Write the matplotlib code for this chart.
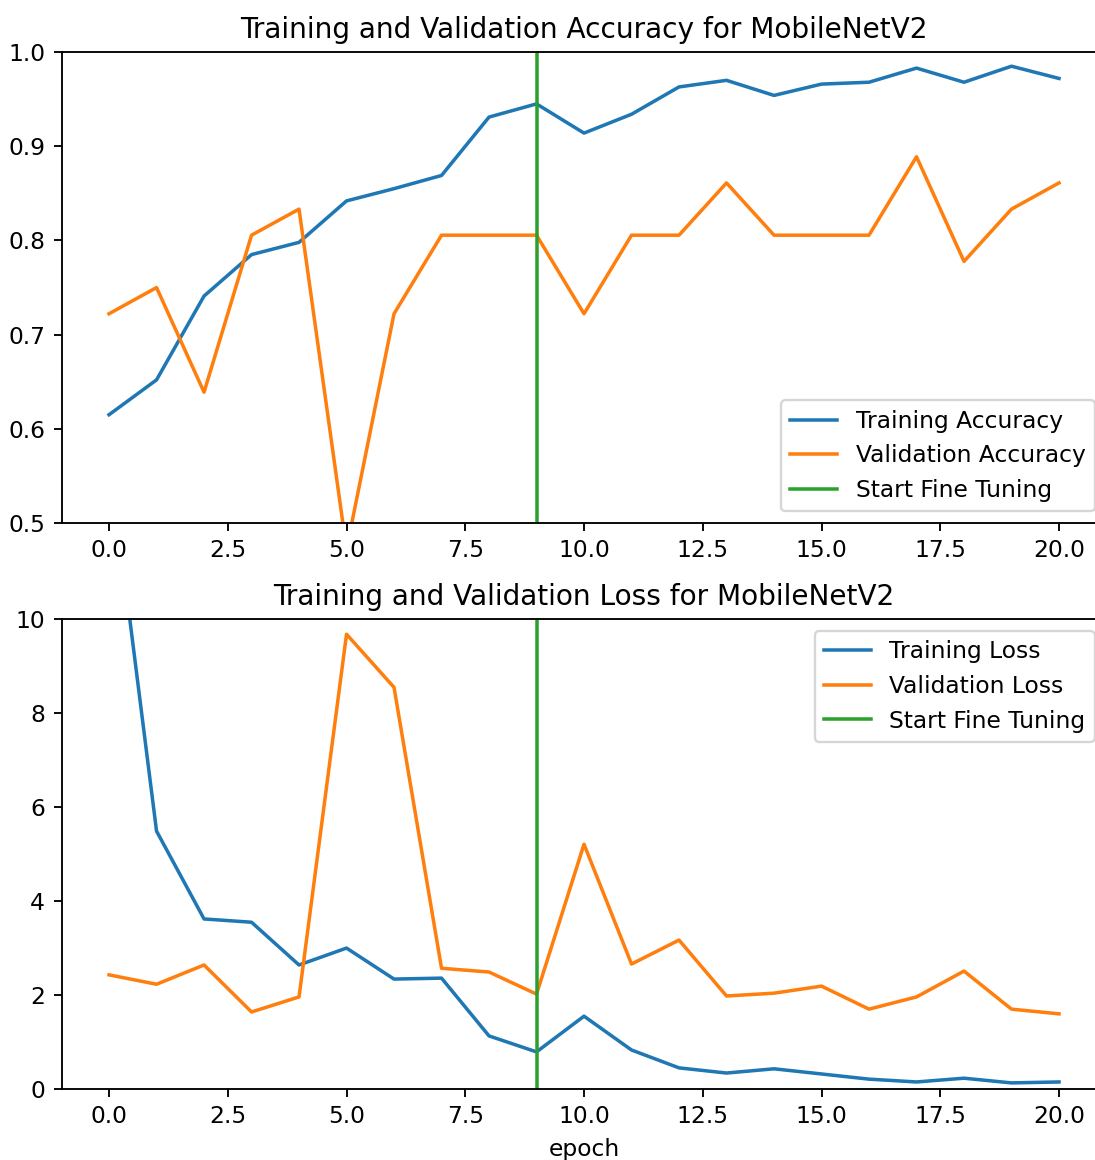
import matplotlib
matplotlib.use("Agg")
import matplotlib.pyplot as plt

# values
acc = [0.615, 0.652, 0.741, 0.785, 0.798, 0.842, 0.855, 0.869, 0.931, 0.945, 0.914,
       0.934, 0.963, 0.970, 0.954, 0.966, 0.968, 0.983, 0.968, 0.985, 0.972]
val_acc = [0.7222, 0.75, 0.6389, 0.8056, 0.8333, 0.4722, 0.7222, 0.8056, 0.8056, 0.8056, 0.7222,
           0.8056, 0.8056, 0.8611, 0.8056, 0.8056, 0.8056, 0.8889, 0.7778, 0.8333, 0.8611]
loss = [13.5, 5.49, 3.62, 3.55, 2.64, 3.0, 2.34, 2.36, 1.13, 0.79, 1.55,
        0.83, 0.45, 0.34, 0.43, 0.32, 0.21, 0.15, 0.23, 0.13, 0.15]
val_loss = [2.43, 2.23, 2.64, 1.64, 1.96, 9.68, 8.55, 2.57, 2.49, 2.02, 5.21,
            2.66, 3.17, 1.98, 2.04, 2.19, 1.70, 1.96, 2.51, 1.70, 1.60]
initial_epochs = 10

dpi = 168
fig = plt.figure(figsize=(1095 / dpi, 1160 / dpi), dpi=dpi)

# Accuracy
ax1 = fig.add_axes([0.0562, 0.5491, 0.9543, 0.406])
ax1.plot(acc, label='Training Accuracy')
ax1.plot(val_acc, label='Validation Accuracy')
ax1.set_ylim([0.5, 1])
ax1.plot([initial_epochs - 1, initial_epochs - 1], ax1.get_ylim(), label='Start Fine Tuning')
ax1.legend(loc='lower right')
ax1.set_title('Training and Validation Accuracy for MobileNetV2')

# Loss
ax2 = fig.add_axes([0.0562, 0.0612, 0.9543, 0.405])
ax2.plot(loss, label='Training Loss')
ax2.plot(val_loss, label='Validation Loss')
ax2.set_ylim([0, 10.0])
ax2.plot([initial_epochs - 1, initial_epochs - 1], ax2.get_ylim(), label='Start Fine Tuning')
ax2.legend(loc='upper right')
ax2.set_title('Training and Validation Loss for MobileNetV2')
ax2.set_xlabel('epoch')

fig.savefig('out.png', dpi=dpi)
